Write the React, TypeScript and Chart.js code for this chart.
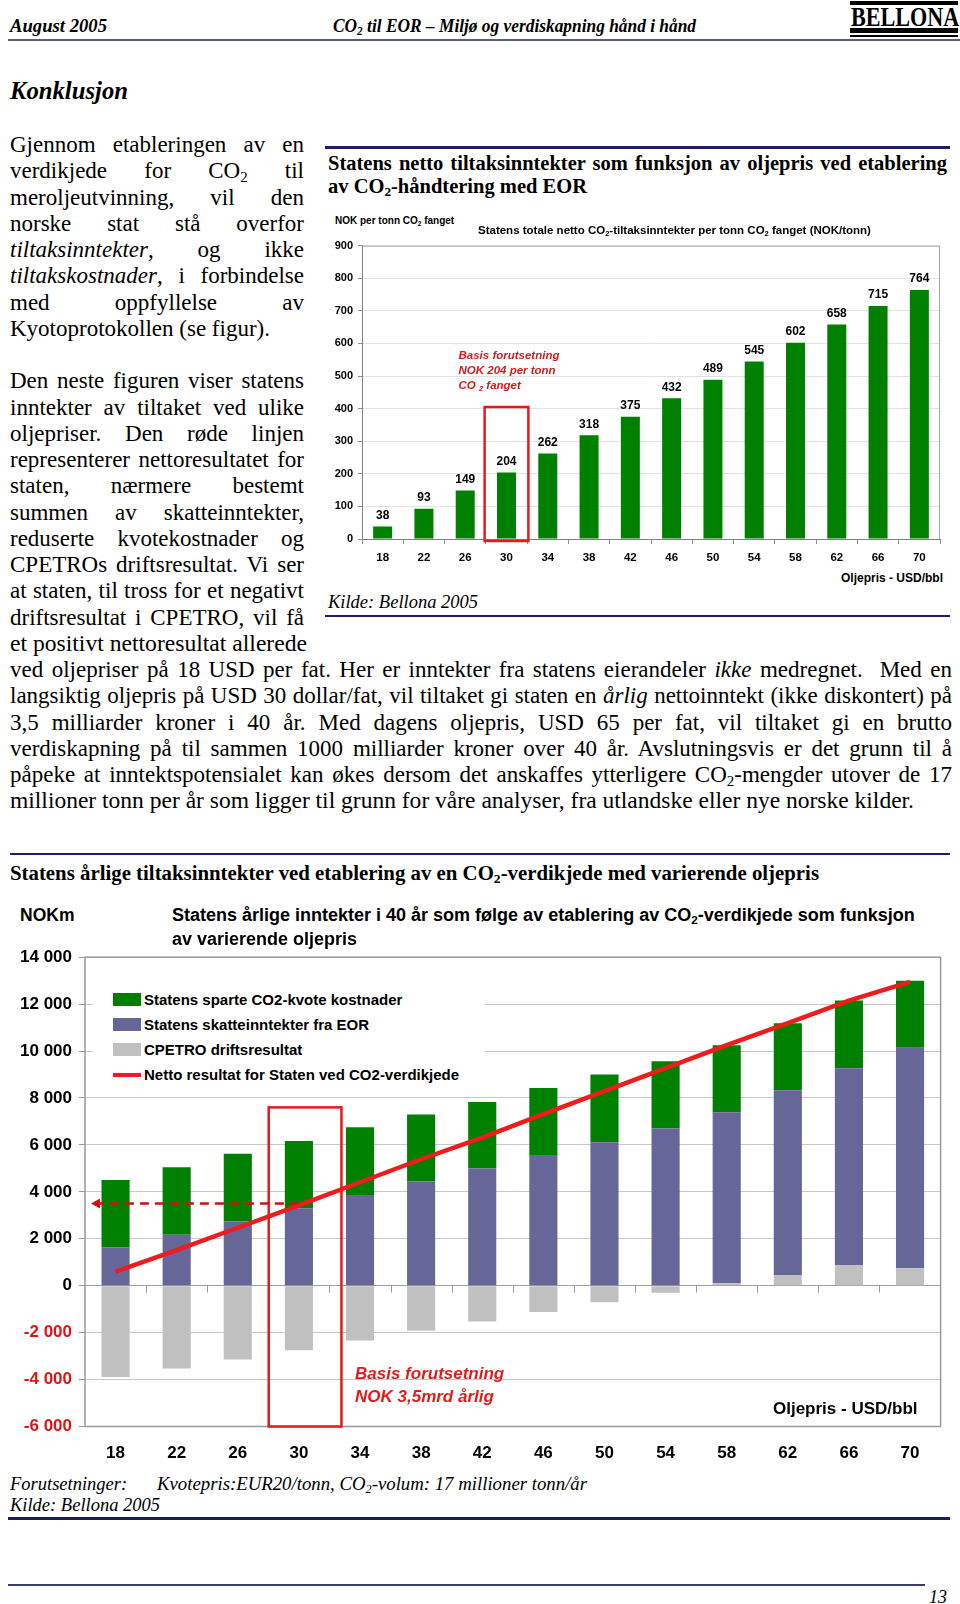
import React, { useEffect, useLayoutEffect, useRef } from 'react';
import { Chart, registerables } from 'chart.js';

Chart.register(...registerables);

const SANS = '"Liberation Sans", Arial, Helvetica, sans-serif';
const SERIF = '"Liberation Serif", "Times New Roman", Times, serif';

// ---------- Shared categories ----------
const oilPrices = ['18', '22', '26', '30', '34', '38', '42', '46', '50', '54', '58', '62', '66', '70'];
const basisIndex = 3; // 30 USD/bbl

// ---------- Chart 1: net income per tonne CO2 ----------
const netPerTonne = [38, 93, 149, 204, 262, 318, 375, 432, 489, 545, 602, 658, 715, 764];
const chart1YTicks = [0, 100, 200, 300, 400, 500, 600, 700, 800, 900];
const chart1BoxTop = 405;

// ---------- Chart 2: annual income (NOKm) ----------
const cpetroResult = [-3890, -3530, -3150, -2750, -2340, -1915, -1520, -1120, -710, -300, 100, 460, 880, 740];
const taxRevenue = [1630, 2170, 2740, 3300, 3870, 4440, 5000, 5570, 6110, 6700, 7290, 7870, 8390, 9400];
const quotaSavings = [2880, 2880, 2880, 2870, 2880, 2860, 2830, 2860, 2890, 2870, 2860, 2860, 2880, 2860];
const netResult = [600, 1520, 2470, 3420, 4410, 5390, 6310, 7310, 8290, 9270, 10250, 11190, 12150, 12950];
const chart2YTicks = [-6000, -4000, -2000, 0, 2000, 4000, 6000, 8000, 10000, 12000, 14000];
const basisAnnual = 3500;
const chart2BoxTop = 7600;

const seriesQuota = 'Statens sparte CO2-kvote kostnader';
const seriesTax = 'Statens skatteinntekter fra EOR';
const seriesCpetro = 'CPETRO driftsresultat';
const seriesNet = 'Netto resultat for Staten ved CO2-verdikjede';

const GREEN = '#008000';
const BLUE = '#666699';
const GRAY = '#c0c0c0';
const RED = '#ee1c1c';
const NAVY = '#1d1d6b';

function fmtThousands(v: number): string {
  if (v === 0) return '0';
  const a = Math.abs(v);
  const s = Math.floor(a / 1000) + ' ' + String(a % 1000).padStart(3, '0');
  return (v < 0 ? '-' : '') + s;
}

const Sub = ({ children }: { children: React.ReactNode }) => (
  <sub style={{ fontSize: '0.65em', verticalAlign: '-0.25em', lineHeight: 0 }}>{children}</sub>
);

type TProps = {
  x: number; y: number; size: number; children: React.ReactNode;
  family?: string; weight?: string | number; italic?: boolean; color?: string;
  w?: number; justify?: boolean; lh?: number; fitW?: number;
};

function T({ x, y, size, children, family = SERIF, weight = 'normal', italic = false, color = '#000', w, justify = false, lh, fitW }: TProps) {
  const H = lh ?? Math.round(size * 1.25);
  const style: React.CSSProperties = {
    position: 'absolute', left: x, top: y - H / 2, height: H, lineHeight: H + 'px',
    fontSize: size, fontFamily: family, fontWeight: weight as any, fontStyle: italic ? 'italic' : 'normal',
    color, margin: 0, padding: 0,
  };
  if (w !== undefined) style.width = w;
  if (justify) {
    style.textAlign = 'justify';
    (style as any).textAlignLast = 'justify';
  } else {
    style.whiteSpace = 'nowrap';
  }
  if (fitW !== undefined) style.transformOrigin = 'left center';
  return (
    <div className={justify ? 'fitline' : fitW !== undefined ? 'fitw' : undefined}
      data-fitw={fitW !== undefined ? String(fitW) : undefined} style={style}>{children}</div>
  );
}

function HLine({ x, y, w, h, color }: { x: number; y: number; w: number; h: number; color: string }) {
  return <div style={{ position: 'absolute', left: x, top: y - h / 2, width: w, height: h, background: color }} />;
}

function Chart1() {
  const ref = useRef<HTMLCanvasElement>(null);
  useEffect(() => {
    const extras = {
      id: 'c1extras',
      beforeDatasetsDraw(chart: any) {
        const { ctx, chartArea: a } = chart;
        ctx.save();
        ctx.strokeStyle = '#a8a8a8';
        ctx.lineWidth = 1;
        ctx.beginPath();
        ctx.moveTo(a.left, a.top + 0.5);
        ctx.lineTo(a.right - 0.5, a.top + 0.5);
        ctx.lineTo(a.right - 0.5, a.bottom);
        ctx.stroke();
        ctx.restore();
      },
      afterDatasetsDraw(chart: any) {
        const { ctx } = chart;
        const meta = chart.getDatasetMeta(0);
        ctx.save();
        ctx.font = `bold 12px ${SANS}`;
        ctx.fillStyle = '#000';
        ctx.textAlign = 'center';
        ctx.textBaseline = 'bottom';
        meta.data.forEach((el: any, i: number) => {
          ctx.fillText(String(netPerTonne[i]), el.x, el.y - 5);
        });
        const xs = chart.scales.x;
        const ys = chart.scales.y;
        const cw = xs.getPixelForValue(1) - xs.getPixelForValue(0);
        const cx = xs.getPixelForValue(basisIndex);
        const top = ys.getPixelForValue(chart1BoxTop);
        const bottom = ys.getPixelForValue(0) + 2;
        ctx.strokeStyle = '#e31b1b';
        ctx.lineWidth = 2.5;
        ctx.strokeRect(cx - 0.53 * cw, top, 1.06 * cw, bottom - top);
        ctx.restore();
      },
    };
    const chart = new Chart(ref.current as HTMLCanvasElement, {
      type: 'bar',
      data: {
        labels: oilPrices,
        datasets: [{
          label: 'NOK/tonn',
          data: netPerTonne,
          backgroundColor: GREEN,
          barPercentage: 0.46,
          categoryPercentage: 1,
        }],
      },
      options: {
        animation: false,
        responsive: false,
        maintainAspectRatio: false,
        layout: { padding: { top: 15.7, right: 10, left: 0, bottom: 0 } },
        plugins: { legend: { display: false }, tooltip: { enabled: false }, title: { display: false } },
        scales: {
          x: {
            grid: { display: true, drawOnChartArea: false, drawTicks: true, tickLength: 5, color: '#909090', offset: true },
            border: { display: true, color: '#808080' },
            ticks: { color: '#000', font: { family: SANS, weight: 'bold', size: 11.5 }, padding: 7, maxRotation: 0, autoSkip: false },
            afterFit: (s: any) => { s.height = 31; },
          },
          y: {
            min: chart1YTicks[0],
            max: chart1YTicks[chart1YTicks.length - 1],
            ticks: { stepSize: chart1YTicks[1] - chart1YTicks[0], color: '#000', font: { family: SANS, weight: 'bold', size: 11 }, padding: 5 },
            grid: { color: '#e2e2e2', tickLength: 4, tickColor: '#909090' },
            border: { display: true, color: '#808080' },
            afterFit: (s: any) => { s.width = 37; },
          },
        },
      } as any,
      plugins: [extras],
    });
    return () => chart.destroy();
  }, []);
  return (
    <canvas ref={ref} width={625} height={340}
      style={{ position: 'absolute', left: 325, top: 230, width: 625, height: 340 }} />
  );
}

function Chart2() {
  const ref = useRef<HTMLCanvasElement>(null);
  useEffect(() => {
    const extras = {
      id: 'c2extras',
      beforeDatasetsDraw(chart: any) {
        const { ctx, chartArea: a } = chart;
        const xs = chart.scales.x;
        const ys = chart.scales.y;
        ctx.save();
        ctx.strokeStyle = '#9a9a9a';
        ctx.lineWidth = 1.5;
        ctx.strokeRect(a.left, a.top, a.right - a.left, a.bottom - a.top);
        const cw = xs.getPixelForValue(1) - xs.getPixelForValue(0);
        const y0 = ys.getPixelForValue(0);
        ctx.strokeStyle = '#9a9a9a';
        ctx.lineWidth = 1;
        ctx.beginPath();
        for (let i = 1; i < oilPrices.length; i++) {
          const x = Math.round(xs.getPixelForValue(i) - cw / 2) + 0.5;
          ctx.moveTo(x, y0);
          ctx.lineTo(x, y0 + 7);
        }
        ctx.stroke();
        ctx.restore();
      },
      afterDatasetsDraw(chart: any) {
        const { ctx, chartArea: a } = chart;
        const xs = chart.scales.x;
        const ys = chart.scales.y;
        const cw = xs.getPixelForValue(1) - xs.getPixelForValue(0);
        const cx = xs.getPixelForValue(basisIndex);
        ctx.save();
        const top = ys.getPixelForValue(chart2BoxTop);
        ctx.strokeStyle = '#e31b1b';
        ctx.lineWidth = 2.5;
        ctx.strokeRect(cx - 0.494 * cw, top, 1.19 * cw, a.bottom - top);
        const yb = ys.getPixelForValue(basisAnnual);
        const tip = a.left + 6;
        ctx.strokeStyle = '#c81414';
        ctx.lineWidth = 2.5;
        ctx.setLineDash([9, 6]);
        ctx.beginPath();
        ctx.moveTo(cx, yb);
        ctx.lineTo(tip + 8, yb);
        ctx.stroke();
        ctx.setLineDash([]);
        ctx.fillStyle = '#c81414';
        ctx.beginPath();
        ctx.moveTo(tip, yb);
        ctx.lineTo(tip + 9, yb - 5);
        ctx.lineTo(tip + 9, yb + 5);
        ctx.closePath();
        ctx.fill();
        ctx.restore();
      },
    };
    const chart = new Chart(ref.current as HTMLCanvasElement, {
      type: 'bar',
      data: {
        labels: oilPrices,
        datasets: [
          {
            type: 'line',
            label: seriesNet,
            data: netResult,
            borderColor: RED,
            borderWidth: 4.5,
            pointRadius: 0,
            tension: 0,
            fill: false,
            stack: 'net',
            order: -1,
          } as any,
          { label: seriesCpetro, data: cpetroResult, backgroundColor: GRAY, barPercentage: 0.46, categoryPercentage: 1, stack: 'bars' },
          { label: seriesTax, data: taxRevenue, backgroundColor: BLUE, barPercentage: 0.46, categoryPercentage: 1, stack: 'bars' },
          { label: seriesQuota, data: quotaSavings, backgroundColor: GREEN, barPercentage: 0.46, categoryPercentage: 1, stack: 'bars' },
        ],
      },
      options: {
        animation: false,
        responsive: false,
        maintainAspectRatio: false,
        layout: { padding: { top: 15, right: 19.4, left: 0, bottom: 0 } },
        plugins: { legend: { display: false }, tooltip: { enabled: false }, title: { display: false } },
        scales: {
          x: {
            stacked: true,
            grid: { display: true, drawOnChartArea: false, drawTicks: false },
            border: { display: false },
            ticks: { color: '#000', font: { family: SANS, weight: 'bold', size: 17 }, padding: 17, maxRotation: 0, autoSkip: false },
            afterFit: (s: any) => { s.height = 43.5; },
          },
          y: {
            stacked: true,
            min: chart2YTicks[0],
            max: chart2YTicks[chart2YTicks.length - 1],
            ticks: {
              stepSize: chart2YTicks[1] - chart2YTicks[0],
              color: (c: any) => (c.tick && c.tick.value < 0 ? '#e01414' : '#000'),
              font: { family: SANS, weight: 'bold', size: 17 },
              padding: 7,
              callback: (v: any) => fmtThousands(Number(v)),
            },
            grid: {
              color: (c: any) => (c.tick && c.tick.value === 0 ? '#a0a0a0' : '#c8c8c8'),
              tickLength: 6,
              tickColor: '#9a9a9a',
            },
            border: { display: false },
            afterFit: (s: any) => { s.width = 85; },
          },
        },
      } as any,
      plugins: [extras],
    });
    return () => chart.destroy();
  }, []);
  return (
    <canvas ref={ref} width={960} height={530}
      style={{ position: 'absolute', left: 0, top: 940, width: 960, height: 530 }} />
  );
}

const LH = 26.25;
const Y0 = 145.3;
const yLine = (i: number) => Y0 + LH * i;

export default function App() {
  useLayoutEffect(() => {
    document.querySelectorAll<HTMLElement>('.fitline').forEach((el) => {
      let fs = parseFloat(el.style.fontSize);
      let guard = 0;
      while (el.scrollHeight > el.clientHeight + 3 && guard < 60) {
        fs -= 0.2;
        el.style.fontSize = fs + 'px';
        guard++;
      }
    });
    document.querySelectorAll<HTMLElement>('.fitw').forEach((el) => {
      const target = parseFloat(el.dataset.fitw || '0');
      const natural = el.getBoundingClientRect().width;
      if (target > 0 && natural > 0) {
        el.style.transform = `scaleX(${target / natural})`;
      }
    });
  }, []);

  const P = 23;
  const colW = 294;
  const fullW = 942;
  const J = (i: number, w: number, content: React.ReactNode, justify = true, fitW?: number) => (
    <T key={i} x={10} y={yLine(i)} size={P} lh={LH} w={justify ? w : undefined} justify={justify} fitW={fitW}>{content}</T>
  );

  const legendRows = [
    { label: seriesQuota, color: GREEN, kind: 'box' },
    { label: seriesTax, color: BLUE, kind: 'box' },
    { label: seriesCpetro, color: GRAY, kind: 'box' },
    { label: seriesNet, color: RED, kind: 'line' },
  ];

  return (
    <div style={{ position: 'absolute', left: 0, top: 0, width: 960, height: 1604, background: '#fff', overflow: 'hidden', color: '#000' }}>
      {/* Header */}
      <T x={10} y={26} size={18.5} weight="bold" italic fitW={97}>August 2005</T>
      <T x={333} y={26} size={18.5} weight="bold" italic fitW={363}>CO<Sub>2</Sub> til EOR – Miljø og verdiskapning hånd i hånd</T>
      <div style={{ position: 'absolute', left: 850, top: 1, width: 108, height: 4, background: '#000' }} />
      <div style={{ position: 'absolute', left: 851, top: 2, height: 30, lineHeight: '30px', fontFamily: SERIF, fontWeight: 'bold', fontSize: 28, transform: 'scaleX(0.79)', transformOrigin: 'left center', whiteSpace: 'nowrap' }}>BELLONA</div>
      <div style={{ position: 'absolute', left: 850, top: 28, width: 108, height: 4.5, background: '#000' }} />
      <div style={{ position: 'absolute', left: 850, top: 34.5, width: 108, height: 2.5, background: '#000' }} />
      <HLine x={8} y={40} w={952} h={2} color="#5a5d7c" />

      <T x={10} y={90} size={25} weight="bold" italic fitW={118}>Konklusjon</T>

      {/* Left column paragraph */}
      {J(0, colW, 'Gjennom etableringen av en')}
      {J(1, colW, <>verdikjede for CO<Sub>2</Sub> til</>)}
      {J(2, colW, 'meroljeutvinning, vil den')}
      {J(3, colW, 'norske stat stå overfor')}
      {J(4, colW, <><i>tiltaksinntekter</i>, og ikke</>)}
      {J(5, colW, <><i>tiltakskostnader</i>, i forbindelse</>)}
      {J(6, colW, 'med oppfyllelse av')}
      {J(7, colW, 'Kyotoprotokollen (se figur).', false)}
      {J(9, colW, 'Den neste figuren viser statens')}
      {J(10, colW, 'inntekter av tiltaket ved ulike')}
      {J(11, colW, 'oljepriser. Den røde linjen')}
      {J(12, colW, 'representerer nettoresultatet for')}
      {J(13, colW, 'staten, nærmere bestemt')}
      {J(14, colW, 'summen av skatteinntekter,')}
      {J(15, colW, 'reduserte kvotekostnader og')}
      {J(16, colW, 'CPETROs driftsresultat. Vi ser')}
      {J(17, colW, 'at staten, til tross for et negativt')}
      {J(18, colW, 'driftsresultat i CPETRO, vil få')}
      {J(19, colW, 'et positivt nettoresultat allerede', false, 297)}
      {J(20, fullW, <>ved oljepriser på 18 USD per fat. Her er inntekter fra statens eierandeler <i>ikke</i> medregnet.&nbsp; Med en</>)}
      {J(21, fullW, <>langsiktig oljepris på USD 30 dollar/fat, vil tiltaket gi staten en <i>årlig</i> nettoinntekt (ikke diskontert) på</>)}
      {J(22, fullW, '3,5 milliarder kroner i 40 år. Med dagens oljepris, USD 65 per fat, vil tiltaket gi en brutto')}
      {J(23, fullW, 'verdiskapning på til sammen 1000 milliarder kroner over 40 år. Avslutningsvis er det grunn til å')}
      {J(24, fullW, <>påpeke at inntektspotensialet kan økes dersom det anskaffes ytterligere CO<Sub>2</Sub>-mengder utover de 17</>)}
      {J(25, fullW, 'millioner tonn per år som ligger til grunn for våre analyser, fra utlandske eller nye norske kilder.', false, 904)}

      {/* Chart 1 frame */}
      <HLine x={325} y={147.5} w={625} h={2.5} color={NAVY} />
      <T x={328} y={162.5} size={20.5} weight="bold" w={619} justify lh={24}>Statens netto tiltaksinntekter som funksjon av oljepris ved etablering</T>
      <T x={328} y={186} size={20.5} weight="bold" lh={24}>av CO<Sub>2</Sub>-håndtering med EOR</T>
      <Chart1 />
      <T x={335} y={220} size={10} weight="bold" family={SANS}>NOK per tonn CO<Sub>2</Sub> fanget</T>
      <T x={478} y={230} size={11.5} weight="bold" family={SANS}>Statens totale netto CO<Sub>2</Sub>-tiltaksinntekter per tonn CO<Sub>2</Sub> fanget (NOK/tonn)</T>
      <T x={458.5} y={355} size={11.5} weight="bold" italic family={SANS} color="#d41c1c">Basis forutsetning</T>
      <T x={458.5} y={370} size={11.5} weight="bold" italic family={SANS} color="#d41c1c">NOK 204 per tonn</T>
      <T x={458.5} y={385} size={11.5} weight="bold" italic family={SANS} color="#d41c1c">CO <Sub>2</Sub> fanget</T>
      <T x={841} y={578} size={12} weight="bold" family={SANS}>Oljepris - USD/bbl</T>
      <T x={328} y={602} size={18.5} italic>Kilde: Bellona 2005</T>
      <HLine x={325} y={616} w={625} h={2.5} color={NAVY} />

      {/* Chart 2 frame */}
      <HLine x={10} y={854} w={940} h={2.5} color={NAVY} />
      <T x={10} y={872.5} size={20.5} weight="bold" lh={24} fitW={809}>Statens årlige tiltaksinntekter ved etablering av en CO<Sub>2</Sub>-verdikjede med varierende oljepris</T>
      <Chart2 />
      <T x={20} y={915} size={17.5} weight="bold" family={SANS}>NOKm</T>
      <T x={172} y={915} size={18} weight="bold" family={SANS}>Statens årlige inntekter i 40 år som følge av etablering av CO<Sub>2</Sub>-verdikjede som funksjon</T>
      <T x={172} y={939.5} size={18} weight="bold" family={SANS}>av varierende oljepris</T>

      {/* Legend */}
      <div style={{ position: 'absolute', left: 93, top: 984, width: 392, height: 104, background: '#fff' }} />
      {legendRows.map((r, i) => {
        const cy = 999.3 + i * 25.2;
        return (
          <React.Fragment key={r.label}>
            {r.kind === 'box' ? (
              <div style={{ position: 'absolute', left: 112.5, top: cy - 6.5, width: 28.5, height: 13, background: r.color }} />
            ) : (
              <div style={{ position: 'absolute', left: 112.5, top: cy - 2, width: 28.5, height: 4, background: r.color }} />
            )}
            <T x={144} y={cy} size={15} weight="bold" family={SANS}>{r.label}</T>
          </React.Fragment>
        );
      })}

      <T x={355} y={1373.5} size={17} weight="bold" italic family={SANS} color="#e31b1b">Basis forutsetning</T>
      <T x={355} y={1396} size={17} weight="bold" italic family={SANS} color="#e31b1b">NOK 3,5mrd årlig</T>
      <T x={773} y={1408} size={17} weight="bold" family={SANS}>Oljepris - USD/bbl</T>

      <T x={10} y={1484} size={18.5} italic>Forutsetninger:</T>
      <T x={156.6} y={1484} size={18.5} italic fitW={430}>Kvotepris:EUR20/tonn, CO<Sub>2</Sub>-volum: 17 millioner tonn/år</T>
      <T x={10} y={1505.6} size={18.5} italic>Kilde: Bellona 2005</T>
      <HLine x={8} y={1518.5} w={942} h={2.5} color={NAVY} />

      <HLine x={8} y={1585} w={917} h={1.5} color="#3a3d74" />
      <T x={929} y={1597} size={18} italic>13</T>
    </div>
  );
}
